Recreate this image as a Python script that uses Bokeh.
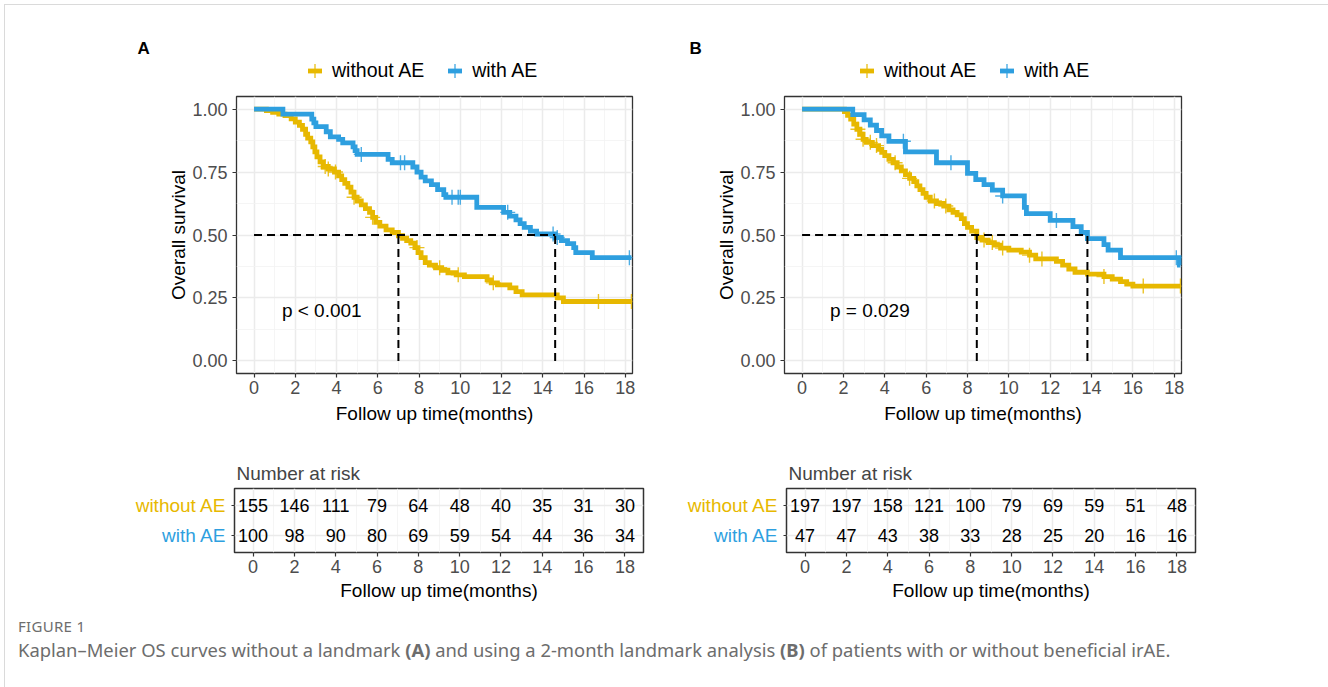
import numpy as np
from bokeh.plotting import figure
from bokeh.models import (Range1d, Legend, LegendItem, FixedTicker,
                          PrintfTickFormatter, Div, Label)
from bokeh.layouts import column, row
from bokeh.embed import file_html
from bokeh.resources import INLINE
from bokeh.core.properties import value

FONT = "Liberation Sans"
YEL = "#E7B800"
BLU = "#2E9FDF"

GROUPS = ["without AE", "with AE"]
COLORS = [YEL, BLU]

x_ticks = [0, 2, 4, 6, 8, 10, 12, 14, 16, 18]
x_minor = [1, 3, 5, 7, 9, 11, 13, 15, 17]
y_ticks = [0.0, 0.25, 0.5, 0.75, 1.0]
y_minor = [0.125, 0.375, 0.625, 0.875]
x_label = "Follow up time(months)"
y_label = "Overall survival"
risk_times = [0, 2, 4, 6, 8, 10, 12, 14, 16, 18]

# ---------------- Panel A (no landmark) ----------------
A_without_t = [0, 0.6, 0.9, 1.2, 1.5, 1.8, 2.0, 2.2, 2.35, 2.5, 2.6, 2.75, 2.85, 2.95, 3.05, 3.2,
               3.35, 3.6, 3.9, 4.1, 4.25, 4.4, 4.55, 4.7, 4.85, 5.0, 5.2, 5.4, 5.6, 5.75, 5.9, 6.1,
               6.4, 6.7, 7.0, 7.2, 7.4, 7.6, 7.8, 7.95, 8.1, 8.3, 8.5, 8.8, 9.1, 9.4, 9.8, 10.2,
               11.3, 11.5, 11.8, 12.4, 12.7, 13.0, 14.7, 15.0]
A_without_s = [1.0, 0.994, 0.987, 0.98, 0.974, 0.961, 0.948, 0.935, 0.92, 0.90, 0.885, 0.87, 0.85,
               0.83, 0.81, 0.79, 0.772, 0.762, 0.75, 0.735, 0.72, 0.705, 0.69, 0.67, 0.65, 0.635,
               0.62, 0.605, 0.59, 0.57, 0.55, 0.535, 0.52, 0.51, 0.497, 0.487, 0.478, 0.468, 0.45,
               0.43, 0.41, 0.39, 0.38, 0.37, 0.36, 0.35, 0.342, 0.335, 0.322, 0.31, 0.302, 0.29,
               0.275, 0.262, 0.25, 0.236]
A_without_cens = [3.45, 3.6, 3.95, 4.85, 5.75, 7.9, 9.0, 9.9, 11.6, 16.7, 18.3]
A_with_t = [0, 1.4, 2.8, 2.9, 3.0, 3.5, 3.7, 4.1, 4.3, 4.8, 4.9, 5.0, 6.5, 6.7, 7.7, 7.9, 8.1, 8.3,
            8.6, 8.9, 9.2, 9.3, 10.8, 12.1, 12.4, 12.7, 12.9, 13.1, 13.4, 13.7, 14.6, 14.9, 15.2,
            15.5, 15.6, 16.4]
A_with_s = [1.0, 0.98, 0.96, 0.945, 0.93, 0.91, 0.89, 0.88, 0.866, 0.85, 0.835, 0.82, 0.80, 0.787,
            0.77, 0.75, 0.73, 0.715, 0.70, 0.68, 0.66, 0.65, 0.61, 0.59, 0.575, 0.56, 0.545, 0.53,
            0.515, 0.504, 0.49, 0.478, 0.466, 0.45, 0.43, 0.41]
A_with_cens = [5.2, 7.1, 7.3, 9.6, 9.9, 10.0, 12.3, 14.5, 14.7, 18.2]
A_end = 18.3
A_pval = "p < 0.001"
A_risk_without = [155, 146, 111, 79, 64, 48, 40, 35, 31, 30]
A_risk_with = [100, 98, 90, 80, 69, 59, 54, 44, 36, 34]

# ---------------- Panel B (2-month landmark) ----------------
B_without_t = [0, 2.05, 2.2, 2.35, 2.5, 2.65, 2.8, 2.95, 3.1, 3.4, 3.7, 3.85, 4.0, 4.2, 4.4, 4.6,
               4.8, 5.0, 5.2, 5.4, 5.55, 5.7, 5.85, 6.0, 6.2, 6.5, 6.85, 7.1, 7.3, 7.5, 7.7, 7.85,
               8.0, 8.2, 8.45, 8.7, 9.0, 9.3, 9.6, 10.0, 10.6, 11.0, 11.3, 12.3, 12.6, 12.9, 13.2,
               13.8, 14.6, 15.0, 15.4, 15.7, 16.0]
B_without_s = [1.0, 0.99, 0.975, 0.96, 0.94, 0.92, 0.90, 0.88, 0.868, 0.855, 0.84, 0.828, 0.815,
               0.80, 0.787, 0.77, 0.755, 0.74, 0.725, 0.712, 0.695, 0.68, 0.665, 0.65, 0.635,
               0.625, 0.615, 0.60, 0.59, 0.58, 0.565, 0.545, 0.53, 0.515, 0.49, 0.48, 0.47, 0.46,
               0.448, 0.44, 0.432, 0.42, 0.405, 0.395, 0.38, 0.365, 0.352, 0.345, 0.335, 0.325,
               0.315, 0.305, 0.297]
B_without_cens = [2.7, 2.95, 3.3, 3.6, 4.5, 5.2, 6.4, 6.95, 8.8, 9.2, 9.7, 11.0, 11.6, 14.6, 16.5, 18.3]
B_with_t = [0, 2.45, 3.0, 3.3, 3.6, 3.85, 4.2, 5.0, 6.5, 8.0, 8.4, 8.8, 9.2, 9.7, 10.75, 10.85,
            12.0, 13.1, 13.5, 13.8, 14.6, 14.8, 15.4, 18.25]
B_with_s = [1.0, 0.978, 0.957, 0.936, 0.915, 0.894, 0.872, 0.83, 0.787, 0.745, 0.72, 0.70, 0.678,
            0.655, 0.61, 0.585, 0.558, 0.533, 0.51, 0.486, 0.462, 0.44, 0.41, 0.38]
B_with_cens = [4.9, 7.2, 9.7, 12.3, 18.1]
B_end = 18.3
B_pval = "p = 0.029"
B_risk_without = [197, 197, 158, 121, 100, 79, 69, 59, 51, 48]
B_risk_with = [47, 47, 43, 38, 33, 28, 25, 20, 16, 16]

HEAD_H = 86
KM_H = 354
KM_TOP = 10
KM_BOTTOM = 67

LINE_W = 4.8
CENS_SIZE = 15
KEY_BOX = 35   # legend glyph box; marker keys are drawn at 0.4 of it

# risk-table rows: first group on top
ROW_POS = [float(len(GROUPS) - i) for i in range(len(GROUPS))]


def style_axis(ax, tick_out=4):
    ax.axis_line_color = None
    ax.major_tick_line_color = "#333333"
    ax.major_tick_line_width = 1.2
    ax.major_tick_in = 0
    ax.major_tick_out = tick_out
    ax.minor_tick_line_color = None
    ax.major_label_text_font = FONT
    ax.major_label_text_font_size = "18px"
    ax.major_label_text_color = "#4D4D4D"
    ax.axis_label_text_font = FONT
    ax.axis_label_text_font_size = "19px"
    ax.axis_label_text_font_style = "normal"
    ax.axis_label_text_color = "#000000"


def style_grid(p):
    for g in (p.xgrid, p.ygrid):
        g.grid_line_color = "#EBEBEB"
        g.grid_line_width = 1.5
        g.minor_grid_line_color = "#F3F3F3"
        g.minor_grid_line_width = 0.8


def step_arrays(t, s, end):
    return list(t) + [end], list(s) + [s[-1]]


def surv_at(t, s, c):
    t = np.asarray(t)
    s = np.asarray(s)
    idx = np.searchsorted(t, np.asarray(c), side="right") - 1
    return s[idx]


def median_time(t, s):
    t = np.asarray(t)
    s = np.asarray(s)
    idx = np.nonzero(s <= 0.5)[0]
    return float(t[idx[0]])


def header(width, tag, tag_x, leg_x, curves):
    # legend strip above a KM panel; the censor points are drawn here only to feed the
    # legend keys (short thick bar + thin "+"), the y-range sits above the survival scale
    h = figure(width=width, height=HEAD_H, x_range=Range1d(0, 1), y_range=Range1d(5, 6),
               output_backend="svg", toolbar_location=None, x_axis_type=None,
               y_axis_type=None, min_border=0, background_fill_alpha=0, border_fill_alpha=0)
    h.outline_line_color = None
    items = []
    for name, color, t, s, cens in curves:
        ys = surv_at(t, s, cens)
        bar = h.scatter(x=cens, y=ys, marker="dash", size=CENS_SIZE, line_color=color,
                        line_width=LINE_W)
        plus = h.scatter(x=cens, y=ys, marker="cross", size=CENS_SIZE, line_color=color,
                         line_width=1.4, line_alpha=0.85)
        items.append(LegendItem(label=name, renderers=[bar, plus]))
    leg = Legend(items=items, orientation="horizontal", location=(leg_x, -2),
                 glyph_width=KEY_BOX, glyph_height=KEY_BOX, label_standoff=-6, spacing=13,
                 padding=0, margin=0, label_text_font=FONT, label_text_font_size="19.5px",
                 label_text_color="black", border_line_color=None, background_fill_alpha=0)
    h.add_layout(leg, "center")
    h.add_layout(Label(x=tag_x, y=HEAD_H - 48, x_units="screen", y_units="screen", text=tag,
                       text_font=FONT, text_font_size="17px", text_font_style="bold",
                       text_align="left", text_baseline="middle", text_color="black"))
    return h


def km_figure(curves, end, pval, width, mbl, mbr):
    p = figure(width=width, height=KM_H, x_range=Range1d(-0.85, 18.35),
               y_range=Range1d(-0.05, 1.05), output_backend="svg", toolbar_location=None,
               min_border_left=mbl, min_border_right=mbr, min_border_top=KM_TOP,
               min_border_bottom=KM_BOTTOM, background_fill_color="white",
               border_fill_alpha=0)
    p.xaxis.ticker = FixedTicker(ticks=x_ticks, minor_ticks=x_minor)
    p.yaxis.ticker = FixedTicker(ticks=y_ticks, minor_ticks=y_minor)
    p.yaxis.formatter = PrintfTickFormatter(format="%.2f")
    p.xaxis.axis_label = x_label
    p.yaxis.axis_label = y_label
    style_axis(p.xaxis[0])
    style_axis(p.yaxis[0])
    p.xaxis.major_label_standoff = 3
    p.xaxis.axis_label_standoff = 6
    p.yaxis.major_label_standoff = 5
    p.yaxis.axis_label_standoff = 0
    style_grid(p)
    p.outline_line_color = "#333333"
    p.outline_line_width = 1.3

    medians = []
    for name, color, t, s, cens in curves:
        xs, ys = step_arrays(t, s, end)
        p.step(x=xs, y=ys, mode="after", line_color=color, line_width=LINE_W,
               line_join="miter")
        p.scatter(x=cens, y=surv_at(t, s, cens), marker="cross", size=CENS_SIZE,
                  line_color=color, line_width=1.4, line_alpha=0.85)
        medians.append(median_time(t, s))

    p.line(x=[0, max(medians)], y=[0.5, 0.5], line_color="black", line_width=2,
           line_dash="8 5")
    p.segment(x0=medians, y0=[0] * len(medians), x1=medians, y1=[0.5] * len(medians),
              line_color="black", line_width=2, line_dash="8 5")

    p.text(x=[1.35], y=[0.2], text=[pval], text_font=value(FONT), text_font_size="19px",
           text_align="left", text_baseline="middle", text_color="black")
    return p


def row_range():
    return Range1d(min(ROW_POS) - 0.6, max(ROW_POS) + 0.6)


def risk_table(counts, width, mbr):
    t = figure(width=width, height=164, x_range=Range1d(-0.9, 18.9), y_range=row_range(),
               output_backend="svg", toolbar_location=None, title="Number at risk",
               min_border_left=8, min_border_right=mbr, min_border_top=48, min_border_bottom=52,
               background_fill_color="white", border_fill_alpha=0)
    t.xaxis.ticker = FixedTicker(ticks=x_ticks, minor_ticks=x_minor)
    t.yaxis.ticker = FixedTicker(ticks=ROW_POS, minor_ticks=[])
    t.xaxis.axis_label = x_label
    style_axis(t.xaxis[0])
    style_axis(t.yaxis[0], tick_out=3)
    t.xaxis.major_label_standoff = 3
    t.xaxis.axis_label_standoff = 4
    t.yaxis.major_label_overrides = {pos: "" for pos in ROW_POS}
    t.yaxis.major_label_standoff = 0
    style_grid(t)
    t.ygrid.minor_grid_line_color = None
    t.outline_line_color = "#333333"
    t.outline_line_width = 1.5
    t.title.text_font = FONT
    t.title.text_font_size = "19px"
    t.title.text_font_style = "normal"
    t.title.align = "left"
    t.title.offset = 2
    for pos, n in zip(ROW_POS, counts):
        t.text(x=risk_times, y=[pos] * len(risk_times), text=[str(v) for v in n],
               text_font=value(FONT), text_font_size="18px", text_align="center",
               text_baseline="middle", text_color="black")
    return t


def row_labels(width):
    lab = figure(width=width, height=164, x_range=Range1d(0, 1), y_range=row_range(),
                 output_backend="svg", toolbar_location=None, x_axis_type=None,
                 y_axis_type=None, min_border_left=0, min_border_right=0, min_border_top=48,
                 min_border_bottom=52, background_fill_alpha=0, border_fill_alpha=0)
    lab.outline_line_color = None
    lab.text(x=[1] * len(GROUPS), y=ROW_POS, text=GROUPS, text_color=COLORS,
             text_font=value(FONT), text_font_size="19px", text_align="right",
             text_baseline="middle")
    return lab


curvesA = [(GROUPS[0], YEL, A_without_t, A_without_s, A_without_cens),
           (GROUPS[1], BLU, A_with_t, A_with_s, A_with_cens)]
curvesB = [(GROUPS[0], YEL, B_without_t, B_without_s, B_without_cens),
           (GROUPS[1], BLU, B_with_t, B_with_s, B_with_cens)]

headA = header(660, "A", 137, 297, curvesA)
headB = header(668, "B", 29, 189, curvesB)
figA = km_figure(curvesA, A_end, A_pval, width=660, mbl=236, mbr=28)
figB = km_figure(curvesB, B_end, B_pval, width=668, mbl=124, mbr=147)

labA = row_labels(226)
tabA = risk_table([A_risk_without, A_risk_with], width=434, mbr=17)
labB = row_labels(118)
tabB = risk_table([B_risk_without, B_risk_with], width=550, mbr=133)

caption_html = (
    '<div style="width:1328px;height:83px;position:relative;font-family:\'Noto Sans\',sans-serif;">'
    '<div style="position:absolute;left:13px;top:7px;font-size:15px;color:#6d6d6d;letter-spacing:0.3px;">FIGURE 1</div>'
    '<div style="position:absolute;left:13px;top:28px;font-size:18.4px;color:#6d6d6d;white-space:nowrap;">'
    'Kaplan–Meier OS curves without a landmark <b>(A)</b> and using a 2-month landmark analysis '
    '<b>(B)</b> of patients with or without beneficial irAE.</div></div>'
)
cap = Div(text=caption_html, width=1328, height=83)

page = column(row(headA, headB), row(figA, figB), row(labA, tabA, labB, tabB), cap,
              styles={
                  "background-color": "white",
                  "background-image": "linear-gradient(#dadada,#dadada), linear-gradient(#dadada,#dadada), linear-gradient(#dadada,#dadada)",
                  "background-size": "1px 100%, 1px 100%, calc(100% - 10px) 1px",
                  "background-position": "4px 4px, calc(100% - 5px) 4px, 5px 4px",
                  "background-repeat": "no-repeat",
              })

with open("out.html", "w") as f:
    f.write(file_html(page, INLINE))
